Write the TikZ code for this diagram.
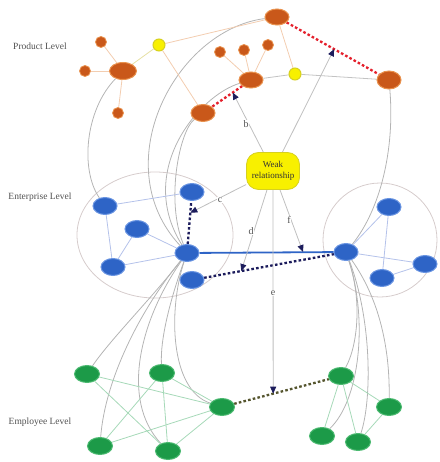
\documentclass[tikz,border=0pt]{standalone}
\usepackage{fontspec}
\setmainfont{Liberation Serif}
\usetikzlibrary{shapes.geometric,arrows.meta,calc}
\pgfdeclarelayer{edges}
\pgfsetlayers{edges,main}
\definecolor{orF}{HTML}{C9581A}
\definecolor{orL}{HTML}{E9924E}
\definecolor{blF}{HTML}{2E64C6}
\definecolor{blL}{HTML}{6A95E2}
\definecolor{grF}{HTML}{1C9A48}
\definecolor{grL}{HTML}{4DBA72}
\definecolor{yeF}{HTML}{F8F000}
\definecolor{yeL}{HTML}{D6D020}
\definecolor{peach}{HTML}{F3CDB0}
\definecolor{ylin}{HTML}{E6E0A4}
\definecolor{blin}{HTML}{B4C2EA}
\definecolor{glin}{HTML}{A6D9B8}
\definecolor{gcur}{HTML}{B4B4B4}
\definecolor{circ}{HTML}{D6CCCC}
\definecolor{navyc}{HTML}{1C1C5C}
\definecolor{redd}{HTML}{E4202C}
\definecolor{oliv}{HTML}{55552E}
\definecolor{txt}{HTML}{505050}
\begin{document}
\begin{tikzpicture}[x=1pt,y=-1pt,
  ob/.style={ellipse,fill=orF,draw=orL,line width=1pt,minimum width=24pt,minimum height=16pt,inner sep=0pt},
  os/.style={circle,fill=orF,draw=orL,line width=0.8pt,minimum size=11pt,inner sep=0pt},
  ys/.style={circle,fill=yeF,draw=yeL,line width=1pt,minimum size=12pt,inner sep=0pt},
  bn/.style={ellipse,fill=blF,draw=blL,line width=1pt,minimum width=24pt,minimum height=17pt,inner sep=0pt},
  gn/.style={ellipse,fill=grF,draw=grL,line width=1pt,minimum width=25pt,minimum height=17pt,inner sep=0pt},
  lvl/.style={text=txt,font=\fontsize{9.5}{11}\selectfont,inner sep=0pt},
  elab/.style={text=txt,font=\fontsize{10}{11}\selectfont,fill=white,inner sep=0.6pt},
  gc/.style={draw=gcur,line width=0.8pt},
  pe/.style={draw=peach,line width=0.8pt},
  yl/.style={draw=ylin,line width=0.8pt},
  bl/.style={draw=blin,line width=0.8pt},
  gl/.style={draw=glin,line width=0.8pt},
  rdot/.style={draw=redd,line width=2.3pt,dash pattern=on 2.6pt off 2.2pt},
  ndot/.style={draw=navyc,line width=2.3pt,dash pattern=on 2.6pt off 2.2pt},
  odot/.style={draw=oliv,line width=2.3pt,dash pattern=on 2.6pt off 2.2pt},
  wk/.style={draw=gcur!85,line width=0.8pt,-{Triangle[length=7pt,width=6pt,color=navyc]}}
]
\useasboundingbox (0,0) rectangle (439,462);

% level labels
\node[lvl] (lp) at (40,46) {Product Level};
\node[lvl] (le) at (40,197) {Enterprise Level};
\node[lvl] (lm) at (40,422) {Employee Level};

% product level
\node[ob] (Ptop) at (277,17) {};
\node[ob,minimum width=27pt,minimum height=17pt] (Pl) at (123,71) {};
\node[os] (s1) at (101,42) {};
\node[os] (s2) at (85,71) {};
\node[os] (s3) at (118,113) {};
\node[ys] (y1) at (159,45) {};
\node[ob] (Pm) at (251,80) {};
\node[os] (s4) at (220,52) {};
\node[os] (s5) at (244,50) {};
\node[os] (s6) at (268,45) {};
\node[ys] (y2) at (295,74) {};
\node[ob,minimum height=18pt] (Pr) at (389,80) {};
\node[ob,minimum height=17pt] (Plo) at (203,113) {};

% weak relationship
\node[rectangle,rounded corners=12pt,fill=yeF,draw=yeL,line width=0.8pt,minimum width=53pt,minimum height=37pt,align=center,inner sep=1pt,font=\fontsize{9}{11}\selectfont,text=black!80] (wr) at (273,171) {Weak\\relationship};

% enterprise level
\node[bn] (B1) at (105,206) {};
\node[bn] (B2) at (137,229) {};
\node[bn] (B3) at (113,267) {};
\node[bn] (B4) at (192,192) {};
\node[bn] (Eh) at (187,253) {};
\node[bn] (Bl) at (192,280) {};
\node[bn] (Er) at (346,252) {};
\node[bn] (R1) at (389,207) {};
\node[bn] (R2) at (425,264) {};
\node[bn] (R3) at (382,278) {};

% employee level
\node[gn] (G1) at (87,374) {};
\node[gn] (G2) at (162,373) {};
\node[gn] (G3) at (222,407) {};
\node[gn] (G4) at (100,446) {};
\node[gn] (G5) at (168,451) {};
\node[gn] (Gr) at (341,376) {};
\node[gn] (Gr4) at (389,407) {};
\node[gn] (Gr2) at (322,436) {};
\node[gn] (Gr3) at (358,442) {};

% edge labels
\node[elab] (lb) at (246,124) {b};
\node[elab] (lc) at (220,200) {c};
\node[elab] (ld) at (251,231) {d};
\node[elab] (lf) at (289,220) {f};
\node[elab] (lE) at (273,293) {e};

% arrow targets
\coordinate (tb) at ($(Pm)!0.38!(Plo)$);
\coordinate (tt) at ($(Ptop)!0.51!(Pr)$);
\coordinate (tc) at ($(Eh)!0.66!(B4)$);
\coordinate (td) at ($(Bl)!0.32!(Er)$);
\coordinate (tf) at (303,252);
\coordinate (te) at ($(G3)!0.43!(Gr)$);

\begin{pgfonlayer}{edges}
  % enterprise circles
  \draw[circ,line width=0.8pt] (155,235) ellipse [x radius=78pt,y radius=63pt];
  \draw[circ,line width=0.8pt] (380,240) ellipse [x radius=57pt,y radius=57pt];

  % gray curves product -> enterprise
  \draw[gc] (Ptop) .. controls (175,30) and (105,165) .. (Eh);
  \draw[gc] (Pm) .. controls (200,95) and (135,170) .. (Eh);
  \draw[gc] (Plo) .. controls (180,130) and (165,200) .. (Eh);
  \draw[gc] (Pl) .. controls (85,110) and (80,170) .. (B1);
  \draw[gc] (Pr) .. controls (395,150) and (380,210) .. (Er);

  % gray curves enterprise -> employee
  \draw[gc] (Eh) .. controls (150,300) and (110,340) .. (G1);
  \draw[gc] (Eh) .. controls (140,310) and (105,380) .. (G4);
  \draw[gc] (Eh) .. controls (140,320) and (120,400) .. (G5);
  \draw[gc] (Eh) .. controls (170,300) and (160,340) .. (G2);
  \draw[gc] (Eh) .. controls (168,310) and (170,390) .. (G3);
  \draw[gc] (Er) .. controls (362,300) and (358,345) .. (Gr);
  \draw[gc] (Er) .. controls (368,320) and (360,400) .. (Gr2);
  \draw[gc] (Er) .. controls (372,320) and (372,400) .. (Gr3);
  \draw[gc] (Er) .. controls (380,300) and (390,350) .. (Gr4);

  % product edges
  \draw[pe] (Pl) -- (s1);
  \draw[pe] (Pl) -- (s2);
  \draw[pe] (Pl) -- (s3);
  \draw[yl] (Pl) -- (y1);
  \draw[pe] (y1) -- (Ptop);
  \draw[pe] (y1) -- (Plo);
  \draw[pe] (Pm) -- (s4);
  \draw[pe] (Pm) -- (s5);
  \draw[pe] (Pm) -- (s6);
  \draw[pe] (Ptop) -- (y2);
  \draw[gc,draw=gcur!80] (Pm) -- (y2);
  \draw[gc,draw=gcur!80] (y2) -- (Pr);

  % enterprise edges
  \draw[bl] (B1) -- (B4);
  \draw[bl] (B1) -- (B3);
  \draw[bl] (B2) -- (B3);
  \draw[bl] (B2) -- (Eh);
  \draw[bl] (B3) -- (Eh);
  \draw[bl] (Er) -- (R1);
  \draw[bl] (R1) -- (R3);
  \draw[bl] (Er) -- (R2);
  \draw[bl] (R3) -- (R2);

  % employee edges
  \draw[gl] (G1) -- (G3);
  \draw[gl] (G1) -- (G5);
  \draw[gl] (G2) -- (G4);
  \draw[gl] (G2) -- (G3);
  \draw[gl] (G2) -- (G5);
  \draw[gl] (G4) -- (G3);
  \draw[gl] (G5) -- (G3);
  \draw[gl] (Gr) -- (Gr4);
  \draw[gl] (Gr) -- (Gr2);
  \draw[gl] (Gr) -- (Gr3);
  \draw[gl] (Gr4) -- (Gr3);

  % strong / dotted relations
  \draw[draw=blF,line width=1.8pt] (Eh) -- (Er);
  \draw[rdot] (Ptop) -- (Pr);
  \draw[rdot] (Pm) -- (Plo);
  \draw[ndot] (Eh) -- (B4);
  \draw[ndot] (Bl) -- (Er);
  \draw[odot] (G3) -- (Gr);

  % weak relationship arrows
  \draw[wk] (wr) -- (tb);
  \draw[wk] (wr) -- (tt);
  \draw[wk] (wr) -- (tc);
  \draw[wk] (wr) -- (td);
  \draw[wk] (wr) -- (tf);
  \draw[wk] (wr) -- (te);
\end{pgfonlayer}
\end{tikzpicture}
\end{document}
